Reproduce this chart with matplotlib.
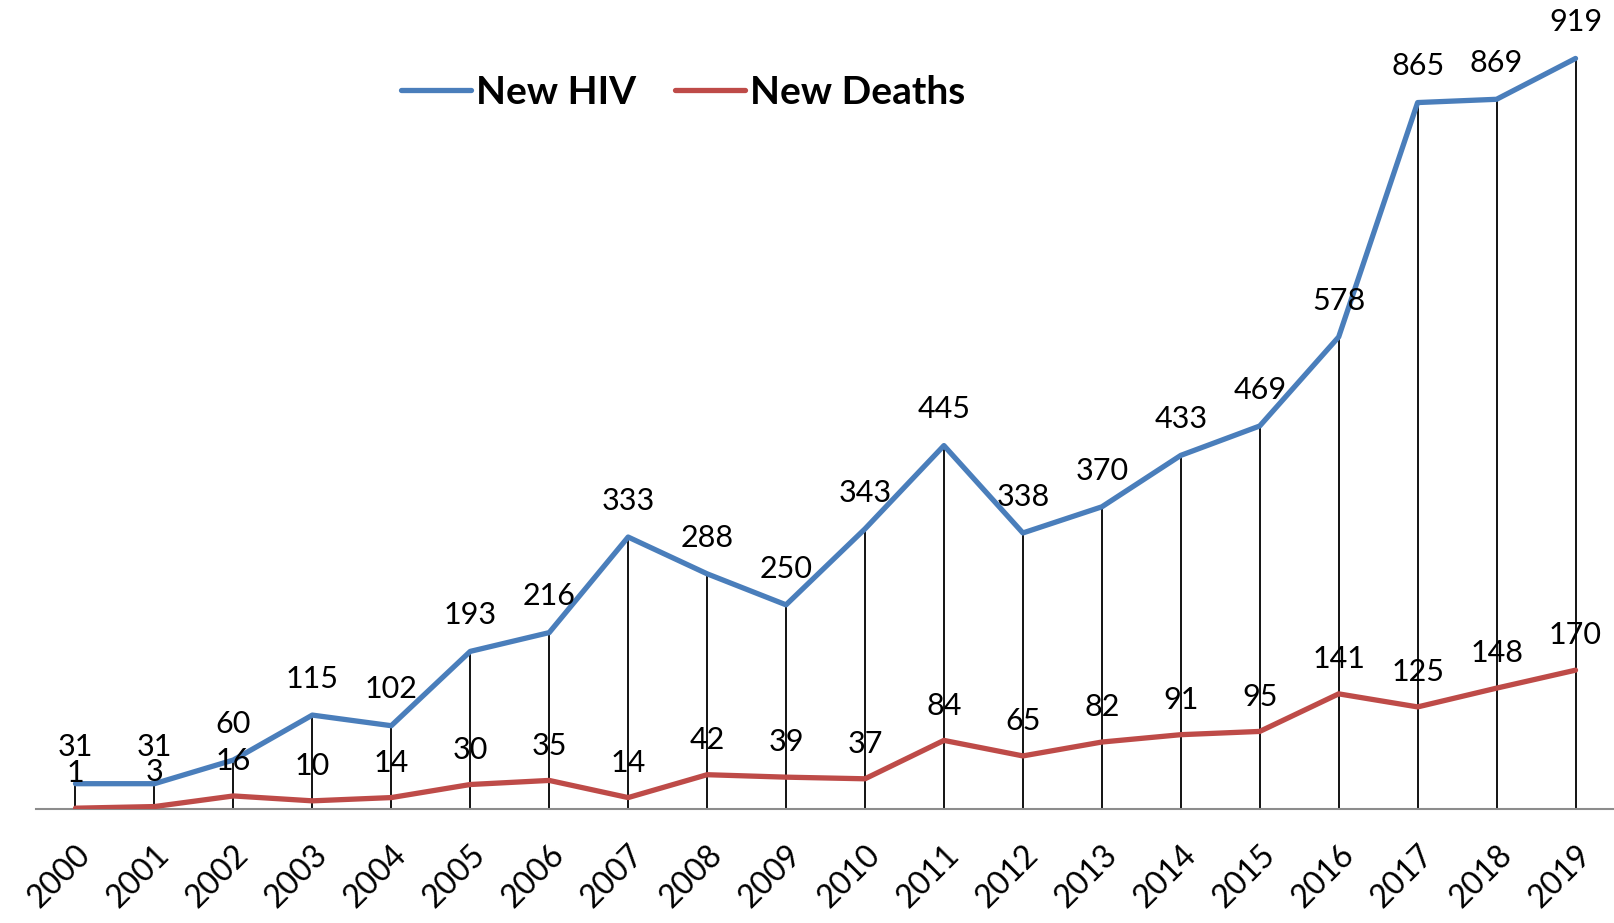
import numpy as np
import matplotlib.pyplot as plt

# Dane
years = [str(y) for y in range(2000, 2020)]
new_hiv = [31, 31, 60, 115, 102, 193, 216, 333, 288, 250, 343, 445, 338, 370, 433, 469, 578, 865, 869, 919]
new_deaths = [1, 3, 16, 10, 14, 30, 35, 14, 42, 39, 37, 84, 65, 82, 91, 95, 141, 125, 148, 170]

plt.rcParams['font.family'] = ['Lato', 'DejaVu Sans']

fig = plt.figure(figsize=(16.15, 9.23), dpi=100)
ax = fig.add_axes([0.0223, 0.1235, 0.9777, 0.876])

x = np.arange(len(years))

# Linie spadku od HIV do osi
ax.vlines(x, 0, new_hiv, color='black', linewidth=1.3, zorder=1)

ax.plot(x, new_hiv, color='#4A7EBB', linewidth=3.8, solid_capstyle='round', label='New HIV', zorder=3)
ax.plot(x, new_deaths, color='#BE4B48', linewidth=3.8, solid_capstyle='round', label='New Deaths', zorder=3)

# Etykiety danych
for xi, v in zip(x, new_hiv):
    ax.annotate(str(v), (xi, v), xytext=(0, 16), textcoords='offset points',
                ha='center', va='bottom', fontsize=22, zorder=4)
for xi, v in zip(x, new_deaths):
    ax.annotate(str(v), (xi, v), xytext=(0, 15), textcoords='offset points',
                ha='center', va='bottom', fontsize=22, zorder=4)

ax.set_xlim(-0.5, len(years) - 0.5)
ax.set_ylim(0, 990)
ax.set_xticks(x)
ax.set_xticklabels(years, rotation=45, ha='right', rotation_mode='anchor', fontsize=23)
ax.tick_params(axis='x', length=0, pad=22)
ax.set_yticks([])

for s in ['top', 'right', 'left']:
    ax.spines[s].set_visible(False)
ax.spines['bottom'].set_color('#8C8C8C')
ax.spines['bottom'].set_linewidth(1.5)

fig.legend(loc='center', bbox_to_anchor=(0.423, 0.9), ncol=2, frameon=False,
           prop={'size': 28, 'weight': 'bold'}, handlelength=1.8, handletextpad=0.12,
           columnspacing=1.0)

plt.savefig('out.png', dpi=100)
